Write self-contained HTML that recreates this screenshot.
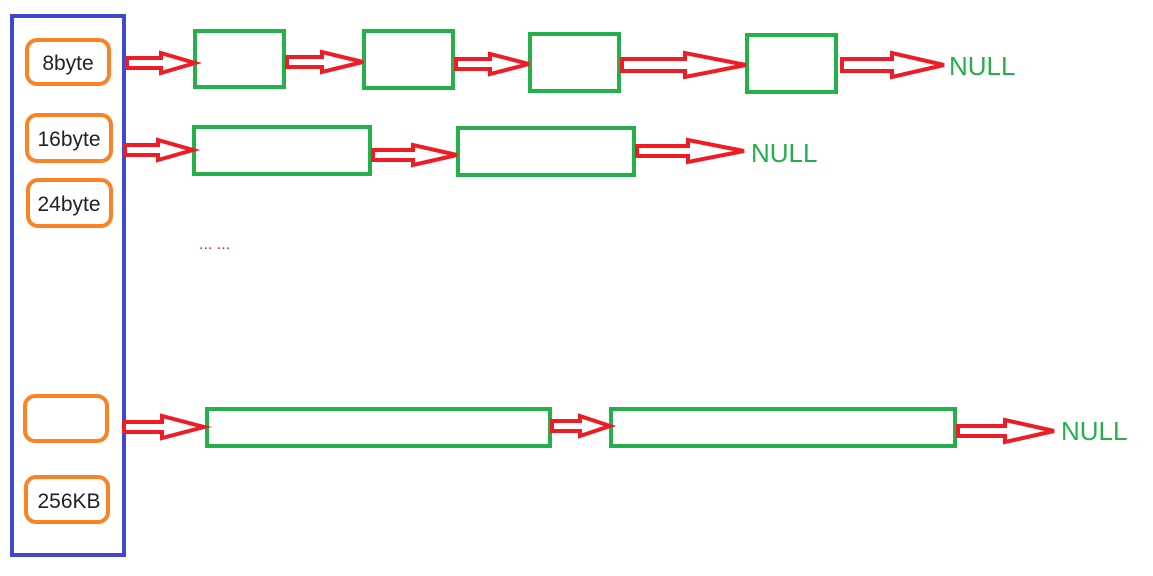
<!DOCTYPE html>
<html><head><meta charset="utf-8"><style>
html,body{margin:0;padding:0;background:#fff;width:1153px;height:576px;overflow:hidden}
svg text{font-family:"Liberation Sans","DejaVu Sans",sans-serif}
</style></head><body>
<svg width="1153" height="576" viewBox="0 0 1153 576" xmlns="http://www.w3.org/2000/svg">
<rect x="12" y="16" width="112" height="539" fill="none" stroke="#4048d0" stroke-width="4"/>
<g fill="none" stroke="#fc8226" stroke-width="4">
<rect x="27" y="40" width="82" height="44" rx="10"/>
<rect x="27" y="115" width="84" height="46" rx="10"/>
<rect x="28" y="180" width="83" height="46" rx="10"/>
<rect x="25" y="396" width="82" height="45" rx="10"/>
<rect x="26" y="477" width="82" height="45" rx="10"/>
</g>
<g fill="#222" font-size="21" text-anchor="middle">
<text x="68" y="70">8byte</text>
<text x="69" y="146">16byte</text>
<text x="69" y="211">24byte</text>
<text x="69" y="508">256KB</text>
</g>
<g fill="none" stroke="#26b04c" stroke-width="4">
<rect x="195" y="31" width="89" height="56"/>
<rect x="364" y="31" width="89" height="57"/>
<rect x="530" y="34" width="89" height="57"/>
<rect x="747" y="35" width="89" height="57"/>
<rect x="194" y="127" width="176" height="47"/>
<rect x="458" y="128" width="176" height="47"/>
<rect x="207" y="409" width="343" height="37"/>
<rect x="611" y="409" width="344" height="37"/>
</g>
<g fill="#26b04c" font-size="26">
<text x="949" y="75">NULL</text>
<text x="751" y="162">NULL</text>
<text x="1061" y="440">NULL</text>
</g>
<g fill="none" stroke="#ee1c24" stroke-width="4" stroke-linejoin="miter">
<polygon points="127,58 161,58 161,53 195,63 161,73 161,68 127,68"/>
<polygon points="287,57 322,57 322,52 363,62 322,72 322,67 287,67"/>
<polygon points="456,59 490,59 490,54 529,64 490,74 490,69 456,69"/>
<polygon points="622,59 685,59 685,53 746,65 685,77 685,71 622,71"/>
<polygon points="842,59 892,59 892,53 944,65 892,77 892,71 842,71"/>
<polygon points="125,145 158,145 158,140 193,150 158,160 158,155 125,155"/>
<polygon points="373,150 413,150 413,145 457,155 413,165 413,160 373,160"/>
<polygon points="637,146 688,146 688,140 744,151 688,162 688,156 637,156"/>
<polygon points="124,422 162,422 162,416 204,427 162,438 162,432 124,432"/>
<polygon points="552,421 580,421 580,416 610,426 580,436 580,431 552,431"/>
<polygon points="958,426 1005,426 1005,420 1054,431 1005,442 1005,436 958,436"/>
</g>
<text x="199" y="249" fill="#ee1c24" font-size="16">... ...</text>
</svg>
</body></html>
